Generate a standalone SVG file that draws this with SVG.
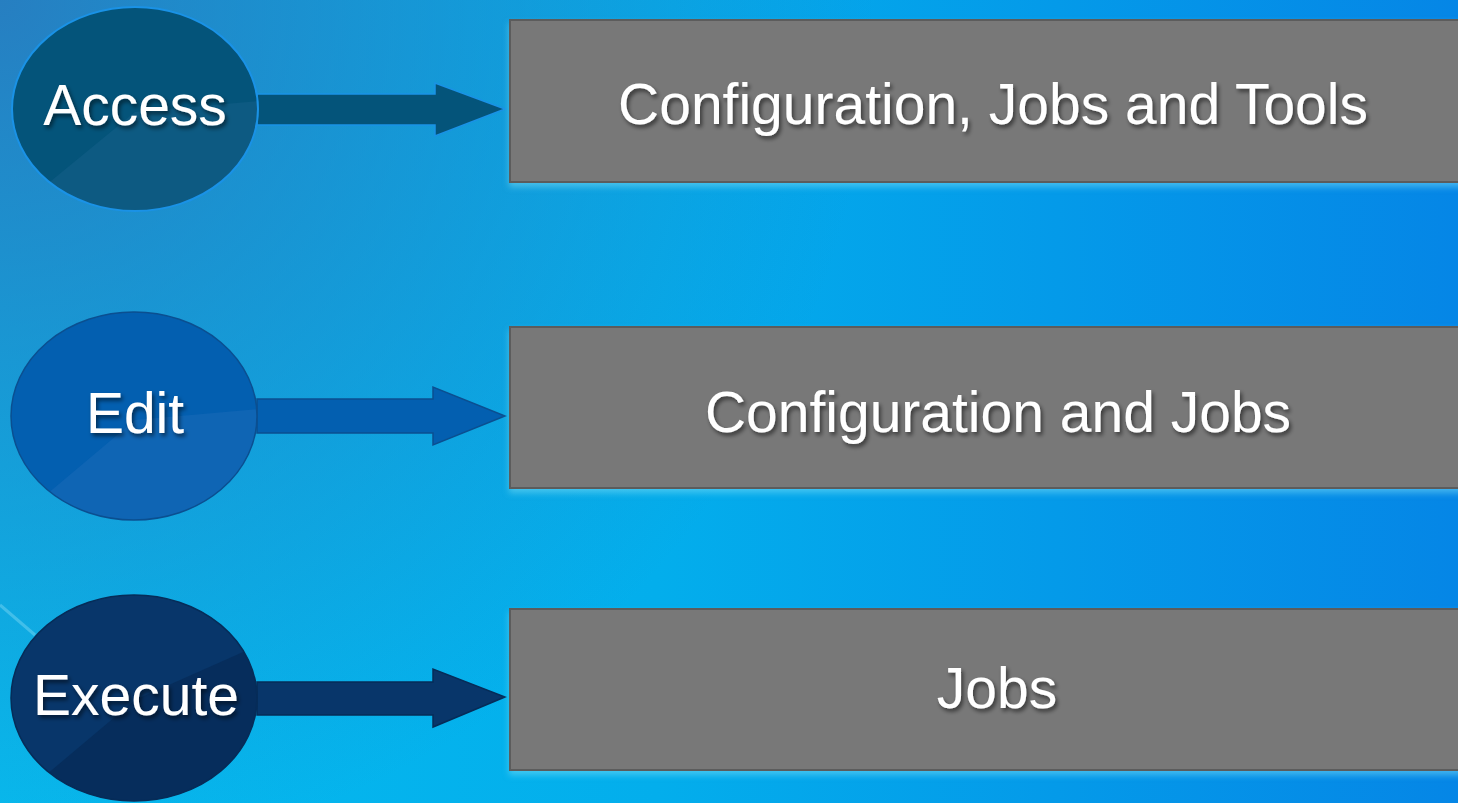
<svg xmlns="http://www.w3.org/2000/svg" width="1458" height="803" viewBox="0 0 1458 803">
<defs>
<linearGradient id="bg" x1="0" y1="0" x2="1" y2="0">
<stop offset="0" stop-color="#06bbee"/>
<stop offset="0.45" stop-color="#03aeec"/>
<stop offset="1" stop-color="#0586e6"/>
</linearGradient>
<radialGradient id="tl" cx="0" cy="0" r="0.6" gradientTransform="scale(1,1.8)">
<stop offset="0" stop-color="#2a78bc" stop-opacity="0.9"/>
<stop offset="1" stop-color="#2a78bc" stop-opacity="0"/>
</radialGradient>
<filter id="ts" x="-10%" y="-20%" width="130%" height="150%">
<feDropShadow dx="2" dy="3" stdDeviation="2" flood-color="#000" flood-opacity="0.55"/>
</filter>
<filter id="rs" x="-5%" y="-10%" width="110%" height="130%">
<feDropShadow dx="0" dy="4" stdDeviation="3" flood-color="#7fe0f5" flood-opacity="0.5"/>
</filter>
<clipPath id="c1"><ellipse cx="135" cy="109" rx="123" ry="102"/></clipPath>
<clipPath id="c2"><ellipse cx="134" cy="416" rx="123" ry="104"/></clipPath>
<clipPath id="c3"><ellipse cx="134" cy="698" rx="123" ry="103"/></clipPath>
</defs>
<style>
.lbl{font-family:"Liberation Sans",Arial,sans-serif;font-size:57px;fill:#fff;text-anchor:middle;filter:url(#ts)}
.box{fill:#787878;stroke:#5c5c5c;stroke-width:2;filter:url(#rs)}
</style>
<rect width="1458" height="803" fill="url(#bg)"/>
<rect width="1458" height="803" fill="url(#tl)"/>
<path d="M0 605 L35 635" stroke="#9fe6fa" stroke-width="3" opacity="0.35"/>
<g id="connectors">
<path d="M257 94 H435 V83 L505 109 L435 136 V125 H257 Z" fill="#04547a" stroke="#1a92e6" stroke-width="1.5"/>
<path d="M257 399 H433 V387 L505 416 L433 445 V433 H257 Z" fill="#035fb0" stroke="#0b4f90" stroke-width="1.5"/>
<path d="M257 682 H433 V669 L505 697 L433 727 V715 H257 Z" fill="#08366a" stroke="#062c58" stroke-width="1.5"/>
</g>
<g id="access">
<ellipse cx="135" cy="109" rx="123" ry="102" fill="#04547a"/>
<path d="M0 250 L40 190 L135 112 L270 100 L300 250 Z" fill="#15608a" opacity="0.5" clip-path="url(#c1)"/>
<ellipse cx="135" cy="109" rx="123" ry="102" fill="none" stroke="#1a92e6" stroke-width="2"/>
<text class="lbl" x="135" y="125">Access</text>
</g>
<g id="edit">
<ellipse cx="134" cy="416" rx="123" ry="104" fill="#035fb0"/>
<path d="M0 560 L40 500 L135 420 L270 408 L300 560 Z" fill="#1a6ab8" opacity="0.55" clip-path="url(#c2)"/>
<ellipse cx="134" cy="416" rx="123" ry="104" fill="none" stroke="#0b4f90" stroke-width="1.5"/>
<text class="lbl" x="135" y="433">Edit</text>
</g>
<g id="execute">
<ellipse cx="134" cy="698" rx="123" ry="103" fill="#08366a"/>
<path d="M0 840 L40 780 L135 700 L270 640 L300 840 Z" fill="#052650" opacity="0.55" clip-path="url(#c3)"/>
<ellipse cx="134" cy="698" rx="123" ry="103" fill="none" stroke="#062c58" stroke-width="1.5"/>
<text class="lbl" x="136" y="715">Execute</text>
</g>
<g id="box1">
<rect class="box" x="510" y="20" width="960" height="162"/>
<text class="lbl" x="993" y="124">Configuration, Jobs and Tools</text>
</g>
<g id="box2">
<rect class="box" x="510" y="327" width="960" height="161"/>
<text class="lbl" x="998" y="432">Configuration and Jobs</text>
</g>
<g id="box3">
<rect class="box" x="510" y="609" width="960" height="161"/>
<text class="lbl" x="997" y="708">Jobs</text>
</g>
</svg>
